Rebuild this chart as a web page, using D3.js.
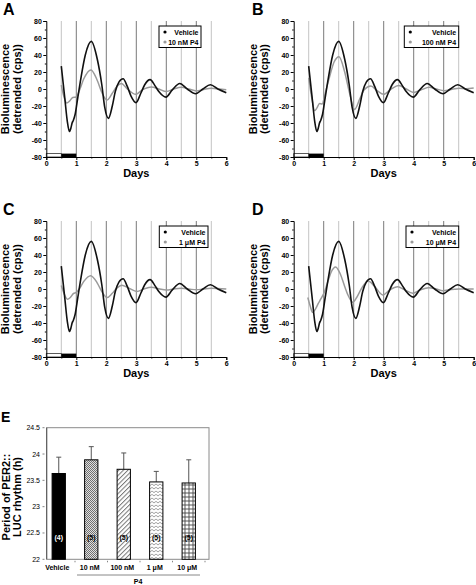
<!DOCTYPE html>
<html><head><meta charset="utf-8">
<script src="https://cdn.jsdelivr.net/npm/d3@7"></script>
<style>body{margin:0;background:#fff} svg{display:block;font-family:"Liberation Sans",Arial,sans-serif}</style>
</head><body><svg id="c" width="476" height="585"></svg>
<script>
// ---- Data: detrended bioluminescence (cps) vs days ----
const vehicleDays   = [0.5,0.62,0.7,0.77,0.82,0.86,0.9,0.96,1.05,1.15,1.3,1.5,1.7,1.85,1.95,2.07,2.2,2.3,2.42,2.56,2.7,2.82,2.99,3.15,3.28,3.46,3.62,3.75,3.99,4.2,4.45,4.7,4.98,5.22,5.47,5.72,6.0];
const vehicleValues = [27,-12,-38,-50,-46,-40,-37,-30,-10,12,40,56,35,5,-22,-34.5,-20,-3,8,12,3,-8,-16,-5,5,11,4,-3,-9.5,-1,6.5,0,-5.5,0,5,0,-4.3];

const p4_10nM_Days   = [0.5,0.58,0.68,0.78,0.88,1.0,1.1,1.25,1.49,1.7,1.85,2.02,2.2,2.35,2.5,2.7,2.98,3.2,3.5,3.75,4.0,4.25,4.5,4.75,5.0,5.25,5.5,5.75,6.0];
const p4_10nM_Values = [4.5,-8,-16.5,-14,-10,-9.5,-2,12,22.5,10,-4,-13,-5,3,6.5,0,-6.3,-1,2.5,0,-3,0,2,0,-2.3,-0.5,0.8,0,-1];

const p4_100nM_Days   = [0.5,0.6,0.7,0.78,0.86,0.95,1.05,1.2,1.35,1.51,1.7,1.85,2.03,2.2,2.35,2.57,2.78,3.0,3.25,3.5,3.75,4.0,4.25,4.52,4.75,5.02,5.25,5.52,5.75,6.0];
const p4_100nM_Values = [13,-10,-25.5,-22,-17,-17.5,-5,15,32,38,20,-3,-24,-12,-1,3.5,-2,-6.3,0,4,0,-4,-1,2,0,-2,-0.5,0.8,0.3,1.2];

const p4_1uM_Days   = [0.5,0.6,0.7,0.8,0.9,1.0,1.1,1.25,1.48,1.7,1.85,2.03,2.2,2.35,2.52,2.75,3.02,3.25,3.5,3.75,4.0,4.25,4.5,4.75,5.0,5.25,5.5,6.0];
const p4_1uM_Values = [4,-6,-12,-10,-5.5,-4,0,9,15.7,7,-3,-10,-5,1,4.5,1,-2.8,0,2,0.3,-1.2,0,0.8,0,-1,0,0.8,0];

const p4_10uM_Days   = [0.47,0.55,0.63,0.72,0.82,0.9,1.02,1.15,1.25,1.4,1.55,1.7,1.82,1.97,2.1,2.25,2.48,2.7,2.97,3.2,3.47,3.7,3.97,4.22,4.5,4.75,4.97,5.25,5.5,6.0];
const p4_10uM_Values = [-10,-20,-27.5,-24,-17,-12,-4,10,20,26,18,3,-8,-15.7,-10,0,9.5,3,-7,-1,2.7,-1,-5,-1,1.6,0,-2,-0.5,0,0];

const yTickValues = [-80,-60,-40,-20,0,20,40,60,80];
const xTickValues = [0,1,2,3,4,5,6];
const markerDays  = [0.5,1,1.5,2,2.5,3,3.5,4,4.5,5,5.5];

// ---- Data: period of PER2::LUC rhythm ----
const periodCategories = ["Vehicle","10 nM","100 nM","1 \u03bcM","10 \u03bcM"];
const periodMeans = [23.63,23.89,23.71,23.47,23.45];
const periodErrors = [0.31,0.25,0.31,0.20,0.44];
const periodN = ["(4)","(5)","(5)","(5)","(5)"];
const periodTicks = [22,22.5,23,23.5,24,24.5];
const periodTickLabels = ["22","22.5","23","23.5","24","24.5"];

const svg = d3.select("#c");
const defs = svg.append("defs");

const panels = [
  {letter:"A", name:"10 nM P4",  days:p4_10nM_Days,  vals:p4_10nM_Values,  x0:46.3,  top:21,  lg:[159,201]},
  {letter:"B", name:"100 nM P4", days:p4_100nM_Days, vals:p4_100nM_Values, x0:293.7, top:21,  lg:[404.3,458.7]},
  {letter:"C", name:"1 \u03bcM P4",  days:p4_1uM_Days,  vals:p4_1uM_Values,  x0:46.3,  top:221, lg:[159.3,208]},
  {letter:"D", name:"10 \u03bcM P4", days:p4_10uM_Days, vals:p4_10uM_Values, x0:293.7, top:221, lg:[406,458.7]}
];

panels.forEach(p => {
  const g = svg.append("g");
  const x = d3.scaleLinear().domain([0,6]).range([p.x0, p.x0+180]);
  const y = d3.scaleLinear().domain([-80,80]).range([p.top+136, p.top]);

  // vertical marker lines
  g.selectAll("line.m").data(markerDays).join("line")
    .attr("x1", d => x(d)).attr("x2", d => x(d))
    .attr("y1", y(-80)).attr("y2", y(80))
    .attr("stroke", d => Number.isInteger(d) ? "#7a7a7a" : "#c4c4c4")
    .attr("stroke-width", 1);

  // bottom condition bar
  g.append("rect").attr("x", x(0)).attr("y", y(-76)).attr("width", x(0.5)-x(0)).attr("height", y(-80)-y(-76))
    .attr("fill", "#fff").attr("stroke", "#333").attr("stroke-width", 0.8);
  g.append("rect").attr("x", x(0.5)).attr("y", y(-76)).attr("width", x(1)-x(0.5)).attr("height", y(-80)-y(-76))
    .attr("fill", "#000");

  // axes
  const ya = g.append("g").attr("transform", `translate(${x(0)},0)`)
    .call(d3.axisLeft(y).tickValues(yTickValues).tickSize(3).tickPadding(1.5).tickFormat(d => String(d)));
  g.append("g").attr("transform", `translate(${x(0)},0)`)
    .call(d3.axisLeft(y).tickValues(d3.range(-70,80,20)).tickSize(1.5).tickFormat(""))
    .select(".domain").remove();
  const xa = g.append("g").attr("transform", `translate(0,${y(-80)})`)
    .call(d3.axisBottom(x).tickValues(xTickValues).tickSize(3).tickPadding(1.5).tickFormat(d => String(d)));
  g.append("g").attr("transform", `translate(0,${y(-80)})`)
    .call(d3.axisBottom(x).tickValues(d3.range(0.5,6,1)).tickSize(1.5).tickFormat(""))
    .select(".domain").remove();
  g.selectAll(".domain").attr("stroke", "#000");
  g.selectAll(".tick text").attr("font-size", 7).attr("font-weight", "bold").attr("fill", "#000")
    .attr("font-family", "Liberation Sans, Arial, sans-serif");

  // curves
  const line = d3.line().x(d => x(d[0])).y(d => y(d[1])).curve(d3.curveMonotoneX);
  g.append("path").datum(d3.zip(p.days, p.vals)).attr("d", line)
    .attr("fill","none").attr("stroke","#9a9a9a").attr("stroke-width",1.5);
  g.append("path").datum(d3.zip(vehicleDays, vehicleValues)).attr("d", line)
    .attr("fill","none").attr("stroke","#111").attr("stroke-width",1.6);

  // legend
  const [l, r] = p.lg, t = p.top + 5;
  g.append("rect").attr("x", l).attr("y", t).attr("width", r-l).attr("height", 21.5)
    .attr("fill","#fff").attr("stroke","#000").attr("stroke-width",1);
  g.append("circle").attr("cx", l+6).attr("cy", t+6).attr("r", 1.6).attr("fill","#000");
  g.append("circle").attr("cx", l+6).attr("cy", t+16).attr("r", 1.6).attr("fill","#9a9a9a");
  g.append("text").attr("x", r-2.5).attr("y", t+8.5).attr("text-anchor","end")
    .attr("font-size",7).attr("font-weight","bold").text("Vehicle");
  g.append("text").attr("x", r-2.5).attr("y", t+18.5).attr("text-anchor","end")
    .attr("font-size",7).attr("font-weight","bold").text(p.name);

  // axis titles
  g.append("text").attr("x", x(3)).attr("y", y(-80)+20).attr("text-anchor","middle")
    .attr("font-size",11).attr("font-weight","bold").text("Days");
  const cy = (y(80)+y(-80))/2;
  g.append("text").attr("transform", `translate(${x(0)-37},${cy}) rotate(-90)`).attr("text-anchor","middle")
    .attr("font-size",11).attr("font-weight","bold").text("Bioluminescence");
  g.append("text").attr("transform", `translate(${x(0)-25.5},${cy}) rotate(-90)`).attr("text-anchor","middle")
    .attr("font-size",11).attr("font-weight","bold").text("(detrended (cps))");

  // panel letter
  g.append("text").attr("x", p.x0 < 100 ? 3 : 252).attr("y", p.top-6).attr("font-size",16)
    .attr("font-weight","bold").text(p.letter);
});

// ---- Panel E ----
// patterns
const pat1 = defs.append("pattern").attr("id","pt1").attr("width",2).attr("height",2).attr("patternUnits","userSpaceOnUse");
pat1.append("rect").attr("width",2).attr("height",2).attr("fill","#e0e0e0");
pat1.append("rect").attr("width",1).attr("height",1).attr("fill","#707070");
pat1.append("rect").attr("x",1).attr("y",1).attr("width",1).attr("height",1).attr("fill","#707070");
const pat2 = defs.append("pattern").attr("id","pt2").attr("width",3.2).attr("height",3.2).attr("patternUnits","userSpaceOnUse").attr("patternTransform","rotate(45)");
pat2.append("rect").attr("width",3.2).attr("height",3.2).attr("fill","#fff");
pat2.append("line").attr("x1",0.5).attr("x2",0.5).attr("y1",0).attr("y2",3.2).attr("stroke","#777").attr("stroke-width",1);
const pat3 = defs.append("pattern").attr("id","pt3").attr("width",4).attr("height",3.5).attr("patternUnits","userSpaceOnUse");
pat3.append("rect").attr("width",4).attr("height",3.5).attr("fill","#fff");
pat3.append("path").attr("d","M0,0.8 L2,2.6 L4,0.8").attr("fill","none").attr("stroke","#777").attr("stroke-width",0.8);
const pat4 = defs.append("pattern").attr("id","pt4").attr("width",4).attr("height",4).attr("patternUnits","userSpaceOnUse").attr("x",0.5).attr("y",0.5);
pat4.append("rect").attr("width",4).attr("height",4).attr("fill","#fff");
pat4.append("path").attr("d","M0,0.5 H4 M0.5,0 V4").attr("fill","none").attr("stroke","#444").attr("stroke-width",0.9);
const fills = ["#000","url(#pt1)","url(#pt2)","url(#pt3)","url(#pt4)"];

const gE = svg.append("g");
const xE = d3.scaleBand().domain(periodCategories).range([42.5, 205]);
const yE = d3.scaleLinear().domain([22, 24.5]).range([559.3, 427.7]);
const bw = 13.3;

gE.append("rect").attr("x",46.7).attr("y",yE(24.5)).attr("width",209-46.7).attr("height",yE(22)-yE(24.5))
  .attr("fill","none").attr("stroke","#8a8a8a").attr("stroke-width",1);
gE.append("line").attr("x1",46.7).attr("x2",46.7).attr("y1",yE(24.5)).attr("y2",yE(22)).attr("stroke","#555");

// y ticks
gE.selectAll("text.yt").data(periodTicks).join("text")
  .attr("x",40).attr("y", d => yE(d)+2.5).attr("text-anchor","end").attr("font-size",7).text((d,i)=>periodTickLabels[i]);
gE.selectAll("line.yt").data(periodTicks).join("line")
  .attr("x1",42.5).attr("x2",44.5).attr("y1", d => yE(d)).attr("y2", d => yE(d)).attr("stroke","#666").attr("stroke-width",0.8);
// x ticks at band edges
gE.selectAll("line.xt").data(periodCategories).join("line")
  .attr("x1", d => xE(d)+xE.bandwidth()).attr("x2", d => xE(d)+xE.bandwidth())
  .attr("y1", yE(22)+1.5).attr("y2", yE(22)+3).attr("stroke","#666").attr("stroke-width",0.8);

// error bars
gE.selectAll("g.err").data(periodCategories).join("g").each(function(c,i){
  const cx = xE(c)+xE.bandwidth()/2;
  const g = d3.select(this);
  g.append("line").attr("x1",cx).attr("x2",cx).attr("y1",yE(periodMeans[i])).attr("y2",yE(periodMeans[i]+periodErrors[i]))
    .attr("stroke","#555").attr("stroke-width",1);
  g.append("line").attr("x1",cx-2.5).attr("x2",cx+2.5).attr("y1",yE(periodMeans[i]+periodErrors[i])).attr("y2",yE(periodMeans[i]+periodErrors[i]))
    .attr("stroke","#555").attr("stroke-width",1);
});
// bars
gE.selectAll("rect.bar").data(periodCategories).join("rect")
  .attr("x", c => xE(c)+xE.bandwidth()/2-bw/2).attr("width", bw)
  .attr("y", (c,i) => yE(periodMeans[i])).attr("height", (c,i) => yE(22)-yE(periodMeans[i]))
  .attr("fill", (c,i) => fills[i]).attr("stroke","#000").attr("stroke-width",1);
// n labels
gE.selectAll("text.n").data(periodCategories).join("text")
  .attr("x", c => xE(c)+xE.bandwidth()/2).attr("y", yE(22.37)).attr("text-anchor","middle")
  .attr("font-size",7).attr("font-weight","bold").attr("fill",(c,i)=> i===0 ? "#fff" : "#000")
  .text((c,i)=>periodN[i]);
// category labels
gE.selectAll("text.cat").data(periodCategories).join("text")
  .attr("x", c => xE(c)+xE.bandwidth()/2-1.5).attr("y", 570).attr("text-anchor","middle")
  .attr("font-size",7).attr("font-weight","bold").text(c=>c);
gE.append("line").attr("x1",77).attr("x2",200).attr("y1",575).attr("y2",575).attr("stroke","#888").attr("stroke-width",1);
gE.append("text").attr("x",138).attr("y",584).attr("text-anchor","middle").attr("font-size",7).attr("font-weight","bold").text("P4");

gE.append("text").attr("transform","translate(10,497) rotate(-90)").attr("text-anchor","middle")
  .attr("font-size",11).attr("font-weight","bold").text("Period of PER2::");
gE.append("text").attr("transform","translate(21,497) rotate(-90)").attr("text-anchor","middle")
  .attr("font-size",11).attr("font-weight","bold").text("LUC rhythm (h)");
gE.append("text").attr("x",1).attr("y",422).attr("font-size",14).attr("font-weight","bold").text("E");
</script></body></html>
